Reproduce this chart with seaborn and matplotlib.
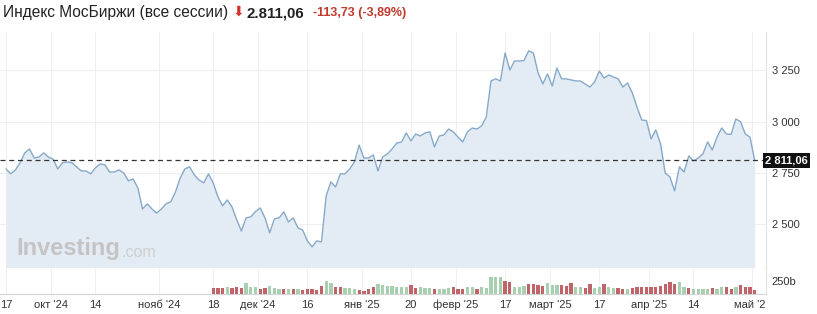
import numpy as np
import pandas as pd
import matplotlib
matplotlib.use("Agg")
import matplotlib.pyplot as plt
import matplotlib.transforms as mtransforms
import seaborn as sns

# ---------------- data ----------------
close = [
    2770, 2746, 2765, 2800, 2848, 2867, 2823, 2828, 2848, 2828,
    2818, 2770, 2800, 2804, 2800, 2780, 2760, 2760, 2746, 2775,
    2794, 2790, 2755, 2755, 2765, 2750, 2712,
    2721, 2678, 2575, 2600, 2575, 2555, 2575, 2600, 2610, 2658,
    2726, 2770, 2780, 2741, 2716, 2702, 2746, 2702, 2634, 2590,
    2619, 2585, 2522, 2468, 2532, 2537, 2563,
    2580, 2532, 2459, 2527, 2532, 2561, 2512, 2532, 2483, 2473,
    2420, 2391, 2420, 2415, 2639, 2707, 2682, 2746, 2746, 2770,
    2804, 2886, 2823, 2823, 2838, 2760,
    2828, 2843, 2867, 2896, 2901, 2945, 2906, 2940, 2930, 2945,
    2950, 2877, 2930, 2935, 2964, 2950, 2925, 2901, 2950, 2969,
    2964, 2979, 3023, 3198, 3208, 3198,
    3334, 3251, 3295, 3295, 3297, 3344, 3334, 3237, 3183, 3232,
    3173, 3261, 3208, 3208, 3203, 3198, 3198, 3183, 3168, 3193,
    3246, 3212, 3227, 3217, 3208, 3168, 3188,
    3140, 3071, 3008, 3005, 2916, 2960, 2892, 2750, 2731, 2663,
    2780, 2755, 2833, 2809, 2823, 2843, 2901, 2862, 2925, 2969,
    2940, 2938, 3013, 2999, 2940, 2924.79, 2811.06,
]

vol_start = 44  # first session with a volume bar
volume = [
    109, 109, 109, 128, 115, 128, 109, 205, 141, 128,
    102, 115, 154, 115, 102, 90, 102, 90, 96, 83,
    90, 102, 77, 160, 243, 205, 141, 128, 115, 115,
    102, 77, 64, 90, 128, 192, 173, 154, 154, 141,
    128, 128, 179, 115, 128, 115, 115, 102, 90, 96,
    115, 128, 102, 90, 128, 141, 96, 141, 115, 333,
    333, 320, 256, 224, 141, 128, 160, 192, 192, 179,
    160, 205, 179, 179, 179, 160, 211, 141, 128, 109,
    192, 115, 141, 192, 141, 115, 115, 96, 96, 109,
    128, 128, 141, 141, 141, 160, 192, 237, 192, 224,
    141, 115, 90, 90, 102, 96, 115, 102, 141, 141,
    96, 128, 179, 141, 141, 77,
]
vol_dir = list(
    "rrrgrrrggg" "rrgggrgrgr" "rrrrggrrgg" "grrrrggggg"
    "ggrrgggrgg" "grrrggrggg" "ggrrgggrrr" "rgggrrrggr"
    "rggrggrrgr" "rrrrrrrrrg" "grggggrggr" "rgrrrr"
)

tick_pos = [0, 9.5, 19, 32.5, 44, 53.5, 64, 75.5, 86, 95.5, 106, 115.5, 126, 136.5, 146, 158.5]
tick_labels = ["17", "окт '24", "14", "нояб '24", "18", "дек '24", "16", "янв '25",
               "20", "февр '25", "17", "март '25", "17", "апр '25", "14", "май '25"]
price_ticks = [2500, 2750, 3000, 3250]
price_tick_labels = ["2 500", "2 750", "3 000", "3 250"]
last_price = 2811.06
last_label = "2 811,06"
title = "Индекс МосБиржи (все сессии)"
title_value = "2.811,06"
title_change = "-113,73 (-3,89%)"

# ---------------- frames ----------------
price_df = pd.DataFrame({"idx": np.arange(len(close)), "close": close})
vol_df = pd.DataFrame({
    "idx": np.arange(vol_start, vol_start + len(volume)),
    "vol": volume,
    "dir": vol_dir,
})

# ---------------- style ----------------
sns.set_style("white")
plt.rcParams["font.family"] = ["Liberation Sans", "DejaVu Sans"]

W, H = 817, 314
fig = plt.figure(figsize=(W / 100, H / 100), dpi=100)

def fx(px):
    return px / W

def fy(py):
    return 1 - py / H

right_px = 766
ax1 = fig.add_axes([0, fy(268), fx(right_px), (268 - 32) / H])
ax2 = fig.add_axes([0, fy(294), fx(right_px), (294 - 268) / H], sharex=ax1)

line_col = "#86a9c9"
fill_col = "#e3ecf5"
grid_col = "#efefef"

ax1.fill_between(price_df["idx"], price_df["close"], 2000, color=fill_col, lw=0, zorder=1)
sns.lineplot(data=price_df, x="idx", y="close", ax=ax1, color=line_col, lw=1.0, zorder=3)
ax1.axhline(last_price, color="#333333", lw=0.9, dashes=(4, 3), zorder=4)

ax1.set_xlim(-1.27, 161.4)
ax1.set_ylim(2288, 3436)

ax1.set_yticks(price_ticks)
ax1.set_yticklabels(price_tick_labels)
ax1.yaxis.tick_right()
ax1.tick_params(axis="y", length=0, pad=4, labelsize=8, labelcolor="#333333")
ax1.tick_params(axis="x", length=0, labelbottom=False)
ax1.set_xlabel("")
ax1.set_ylabel("")
ax1.grid(True, color=grid_col, lw=0.8, zorder=0)
ax1.set_axisbelow(True)
for s in ["top", "left"]:
    ax1.spines[s].set_visible(False)
ax1.spines["right"].set_color("#e2e2e2")
ax1.spines["bottom"].set_color("#e2e2e2")
ax1.spines["right"].set_linewidth(0.8)
ax1.spines["bottom"].set_linewidth(0.8)

# price label box
trans = mtransforms.blended_transform_factory(ax1.transAxes, ax1.transData)
ax1.text(1.0 - 1 / right_px, last_price, last_label, transform=trans, ha="left", va="center",
         color="white", fontsize=8, fontweight="bold", zorder=10, clip_on=False,
         bbox=dict(boxstyle="square,pad=0.2", fc="#111111", ec="none"))

# watermark
inv = ax1.text(fx(16) / fx(right_px), 0.055, "Investing", transform=ax1.transAxes, fontsize=17,
               fontweight="bold", color="#c4c4c4", ha="left", va="baseline", zorder=2)
ax1.annotate(".com", xy=(1, 0), xycoords=inv, xytext=(1, 0), textcoords="offset points",
             fontsize=11.5, color="#cfcfcf", ha="left", va="bottom", zorder=2)

# volume
sns.barplot(data=vol_df, x="idx", y="vol", hue="dir", palette={"g": "#a1d5ab", "r": "#cf555b"},
            native_scale=True, width=0.7, dodge=False, legend=False, ax=ax2, zorder=3,
            linewidth=0)
ax2.set_ylim(0, 500)
ax2.set_yticks([250])
ax2.set_yticklabels(["250b"])
ax2.yaxis.tick_right()
ax2.tick_params(axis="y", length=0, pad=4, labelsize=8, labelcolor="#333333")
ax2.set_xticks(tick_pos)
ax2.set_xticklabels(tick_labels)
ax2.tick_params(axis="x", length=0, pad=4, labelsize=8, labelcolor="#333333")
ax2.set_xlim(-1.27, 161.4)
ax2.set_xlabel("")
ax2.set_ylabel("")
ax2.grid(True, axis="x", color=grid_col, lw=0.8, zorder=0)
ax2.set_axisbelow(True)
for s in ["top", "left"]:
    ax2.spines[s].set_visible(False)
ax2.spines["right"].set_color("#e2e2e2")
ax2.spines["bottom"].set_color("#d4d4d4")
ax2.spines["right"].set_linewidth(0.8)
ax2.spines["bottom"].set_linewidth(0.8)
ax1.set_xticks(tick_pos)

# header
fig.text(fx(3), fy(17), title, fontsize=11.2, color="#222222", ha="left", va="baseline")
fig.text(fx(233), fy(16), "⬇", fontsize=10, color="#d0312d", ha="left", va="baseline",
         family=["DejaVu Sans"])
fig.text(fx(247), fy(17), title_value, fontsize=10.8, fontweight="bold", color="#222222",
         ha="left", va="baseline")
fig.text(fx(313), fy(16), title_change, fontsize=9, fontweight="bold", color="#c0392b",
         ha="left", va="baseline")

# clip x tick labels at the right edge of the plot
fig.canvas.draw()
clip = mtransforms.TransformedBbox(mtransforms.Bbox([[0, 0], [fx(right_px), 1]]), fig.transFigure)
for lab in ax2.get_xticklabels():
    lab.set_clip_on(True)
    lab.set_clip_box(clip)

fig.savefig("out.png", dpi=100)
